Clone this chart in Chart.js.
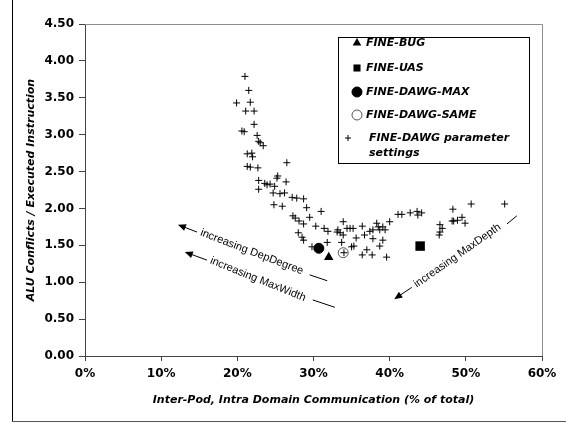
<!DOCTYPE html>
<html>
<head>
<meta charset="utf-8">
<script src="https://cdn.jsdelivr.net/npm/chart.js@4.4.1/dist/chart.umd.min.js"></script>
<style>
  html, body { margin: 0; padding: 0; background: #fff; }
  #wrap { width: 566px; height: 424px; }
</style>
</head>
<body>
<div id="wrap"><canvas id="chartCanvas" width="566" height="424"></canvas></div>
<script>
// --- data (x = % of total, y = conflicts / instruction)
var xTicks = [0, 10, 20, 30, 40, 50, 60];
var yTicks = [0, 0.5, 1, 1.5, 2, 2.5, 3, 3.5, 4, 4.5];

var seriesNames = ['FINE-BUG', 'FINE-UAS', 'FINE-DAWG-MAX', 'FINE-DAWG-SAME', 'FINE-DAWG parameter settings'];

var bugX = [32.0];
var bugY = [1.34];
var uasX = [44.0];
var uasY = [1.49];
var dawgMaxX = [30.7];
var dawgMaxY = [1.46];
var dawgSameX = [33.9];
var dawgSameY = [1.40];

var paramX = [
  21.0, 21.5, 19.9, 21.7, 21.1, 22.2, 22.2, 20.6, 20.9, 22.6,
  22.8, 23.0, 23.4, 21.3, 21.9, 22.0, 21.3, 21.7, 22.7, 26.5,
  25.3, 25.2, 22.8, 23.6, 24.3, 24.9, 26.4, 22.8, 23.9, 24.7,
  25.6, 26.2, 27.2, 27.8, 28.7, 24.8, 25.9, 29.1, 31.0, 27.3,
  27.6, 28.1, 28.7, 29.5, 30.3, 31.4, 31.9, 28.0, 28.5, 28.7,
  31.8, 29.8, 33.1, 33.9, 33.2, 33.5, 34.4, 34.8, 35.2, 33.9,
  33.7, 34.0, 35.0, 35.3, 35.6, 36.4, 37.4, 37.8, 38.3, 38.5,
  38.7, 39.1, 39.4, 40.0, 36.7, 37.8, 39.1, 38.7, 37.0, 36.4,
  37.7, 39.6, 41.1, 41.6, 42.7, 43.6, 43.7, 44.2, 46.6, 46.9,
  46.6, 46.5, 48.3, 48.2, 48.4, 48.9, 49.5, 49.9, 50.7, 55.1
];
var paramY = [
  3.79, 3.60, 3.43, 3.44, 3.32, 3.32, 3.14, 3.05, 3.04, 2.99,
  2.91, 2.89, 2.85, 2.74, 2.75, 2.70, 2.57, 2.56, 2.55, 2.62,
  2.44, 2.41, 2.38, 2.34, 2.33, 2.30, 2.36, 2.26, 2.32, 2.21,
  2.20, 2.21, 2.15, 2.14, 2.13, 2.05, 2.03, 2.01, 1.96, 1.90,
  1.87, 1.83, 1.79, 1.88, 1.76, 1.73, 1.69, 1.67, 1.61, 1.57,
  1.54, 1.48, 1.68, 1.82, 1.71, 1.67, 1.73, 1.73, 1.73, 1.64,
  1.54, 1.40, 1.48, 1.49, 1.60, 1.76, 1.69, 1.71, 1.80, 1.75,
  1.71, 1.75, 1.71, 1.82, 1.64, 1.59, 1.57, 1.49, 1.44, 1.37,
  1.37, 1.34, 1.92, 1.92, 1.94, 1.96, 1.91, 1.94, 1.78, 1.73,
  1.68, 1.64, 1.99, 1.83, 1.83, 1.84, 1.88, 1.80, 2.06, 2.06
];

// text arrows, placed in data units
var notes = [
  { text: 'increasing DepDegree', at: [21.9, 1.41], angle: 21, tail: [14.7, 1.68], tip: [12.2, 1.78], dash: [[29.5, 1.10], [31.8, 1.02]] },
  { text: 'increasing MaxWidth', at: [22.7, 1.04], angle: 22, tail: [16.0, 1.30], tip: [13.1, 1.41], dash: [[29.9, 0.76], [32.8, 0.66]] },
  { text: 'increasing MaxDepth', at: [48.9, 1.36], angle: -35, tail: [42.9, 0.93], tip: [40.6, 0.77], dash: [[55.4, 1.79], [56.7, 1.90]] }
];

function pairs(xs, ys) {
  var out = [];
  for (var i = 0; i < xs.length; i += 1) out.push({ x: xs[i], y: ys[i] });
  return out;
}

var tickFont = { family: '"DejaVu Sans", Verdana, sans-serif', size: 12, weight: 'bold' };
var titleFont = { family: '"DejaVu Sans", Verdana, sans-serif', size: 11, weight: 'bold', style: 'italic' };

function drawMarker(ctx, style, x, y, r, fill, stroke) {
  ctx.save();
  ctx.fillStyle = fill;
  ctx.strokeStyle = stroke;
  ctx.lineWidth = 1;
  ctx.beginPath();
  if (style === 'triangle') {
    ctx.moveTo(x, y - r);
    ctx.lineTo(x + r * 0.866, y + r / 2);
    ctx.lineTo(x - r * 0.866, y + r / 2);
    ctx.closePath();
    ctx.fill();
  } else if (style === 'rect') {
    var s = r * Math.SQRT1_2;
    ctx.rect(x - s, y - s, 2 * s, 2 * s);
    ctx.fill();
  } else if (style === 'circle') {
    ctx.arc(x, y, r, 0, Math.PI * 2);
    ctx.fill();
    ctx.stroke();
  } else if (style === 'cross') {
    ctx.moveTo(x - r, y); ctx.lineTo(x + r, y);
    ctx.moveTo(x, y - r); ctx.lineTo(x, y + r);
    ctx.stroke();
  }
  ctx.restore();
}

var framePlugin = {
  id: 'frame',
  afterDraw: function (chart) {
    var ctx = chart.ctx;
    var a = chart.chartArea;
    ctx.save();
    // outer chart frame
    ctx.strokeStyle = '#000';
    ctx.lineWidth = 1;
    ctx.beginPath();
    ctx.moveTo(12.5, 0); ctx.lineTo(12.5, 421.5);
    ctx.stroke();
    ctx.strokeStyle = '#555';
    ctx.beginPath();
    ctx.moveTo(12, 421.5); ctx.lineTo(566, 421.5);
    ctx.stroke();
    // plot area top / right edge
    ctx.strokeStyle = '#8c8c8c';
    ctx.beginPath();
    ctx.moveTo(a.left, Math.round(a.top) + 0.5);
    ctx.lineTo(Math.round(a.right) + 0.5, Math.round(a.top) + 0.5);
    ctx.lineTo(Math.round(a.right) + 0.5, a.bottom);
    ctx.stroke();
    ctx.restore();
  }
};

var notesPlugin = {
  id: 'notes',
  afterDatasetsDraw: function (chart) {
    var ctx = chart.ctx;
    var xs = chart.scales.x;
    var ys = chart.scales.y;
    ctx.save();
    ctx.strokeStyle = '#000';
    ctx.fillStyle = '#000';
    ctx.lineWidth = 1;
    notes.forEach(function (n) {
      var tx = xs.getPixelForValue(n.at[0]);
      var ty = ys.getPixelForValue(n.at[1]);
      ctx.save();
      ctx.translate(tx, ty);
      ctx.rotate(n.angle * Math.PI / 180);
      ctx.font = '11px "Liberation Sans", Arial, sans-serif';
      ctx.textAlign = 'center';
      ctx.textBaseline = 'middle';
      ctx.fillText(n.text, 0, 0);
      ctx.restore();

      var x1 = xs.getPixelForValue(n.tail[0]), y1 = ys.getPixelForValue(n.tail[1]);
      var x2 = xs.getPixelForValue(n.tip[0]), y2 = ys.getPixelForValue(n.tip[1]);
      var ang = Math.atan2(y2 - y1, x2 - x1);
      ctx.beginPath();
      ctx.moveTo(x1, y1);
      ctx.lineTo(x2 - Math.cos(ang) * 4, y2 - Math.sin(ang) * 4);
      ctx.stroke();
      ctx.beginPath();
      ctx.moveTo(x2, y2);
      ctx.lineTo(x2 - Math.cos(ang) * 8 + Math.sin(ang) * 3.5, y2 - Math.sin(ang) * 8 - Math.cos(ang) * 3.5);
      ctx.lineTo(x2 - Math.cos(ang) * 8 - Math.sin(ang) * 3.5, y2 - Math.sin(ang) * 8 + Math.cos(ang) * 3.5);
      ctx.closePath();
      ctx.fill();

      ctx.beginPath();
      ctx.moveTo(xs.getPixelForValue(n.dash[0][0]), ys.getPixelForValue(n.dash[0][1]));
      ctx.lineTo(xs.getPixelForValue(n.dash[1][0]), ys.getPixelForValue(n.dash[1][1]));
      ctx.stroke();
    });
    ctx.restore();
  }
};

var legendPlugin = {
  id: 'boxLegend',
  afterDraw: function (chart) {
    var ctx = chart.ctx;
    var bx = 338.5, by = 37.5, bw = 191, bh = 126;
    ctx.save();
    ctx.fillStyle = '#fff';
    ctx.fillRect(bx, by, bw, bh);
    ctx.strokeStyle = '#000';
    ctx.lineWidth = 1;
    ctx.strokeRect(bx, by, bw, bh);

    var rows = [43, 68, 92, 115, 138];
    var order = [1, 2, 3, 4, 0];
    ctx.font = 'italic bold 11px "DejaVu Sans", Verdana, sans-serif';
    ctx.fillStyle = '#000';
    ctx.textBaseline = 'middle';
    ctx.textAlign = 'left';
    order.forEach(function (di, i) {
      var ds = chart.data.datasets[di];
      var y = rows[i];
      if (ds.pointStyle === 'cross') {
        drawMarker(ctx, 'cross', 348, y, 3, '#000', '#000');
        var words = ds.label.split(' ');
        ctx.fillStyle = '#000';
        ctx.fillText(words.slice(0, 2).join(' '), 369, y);
        ctx.fillText(words.slice(2).join(' '), 369, y + 15);
      } else {
        drawMarker(ctx, ds.pointStyle, 357, y, 5, ds.pointBackgroundColor, ds.pointBorderColor);
        ctx.fillStyle = '#000';
        ctx.fillText(ds.label, 366, y);
      }
    });
    ctx.restore();
  }
};

new Chart(document.getElementById('chartCanvas').getContext('2d'), {
  type: 'scatter',
  data: {
    datasets: [
      { label: seriesNames[4], data: pairs(paramX, paramY), pointStyle: 'cross', pointRadius: 3.5, pointBorderWidth: 1, pointBorderColor: '#000', pointBackgroundColor: '#000' },
      { label: seriesNames[0], data: pairs(bugX, bugY), pointStyle: 'triangle', pointRadius: 5.5, pointBorderWidth: 0, pointBorderColor: '#000', pointBackgroundColor: '#000' },
      { label: seriesNames[1], data: pairs(uasX, uasY), pointStyle: 'rect', pointRadius: 6.7, pointBorderWidth: 0, pointBorderColor: '#000', pointBackgroundColor: '#000' },
      { label: seriesNames[2], data: pairs(dawgMaxX, dawgMaxY), pointStyle: 'circle', pointRadius: 5, pointBorderWidth: 1, pointBorderColor: '#000', pointBackgroundColor: '#000' },
      { label: seriesNames[3], data: pairs(dawgSameX, dawgSameY), pointStyle: 'circle', pointRadius: 5, pointBorderWidth: 1, pointBorderColor: '#555', pointBackgroundColor: 'rgba(255,255,255,0)' }
    ]
  },
  options: {
    responsive: false,
    animation: false,
    events: [],
    layout: { padding: { left: 12, top: 24, right: 24, bottom: 2 } },
    plugins: {
      legend: { display: false },
      tooltip: { enabled: false }
    },
    scales: {
      x: {
        type: 'linear',
        min: xTicks[0],
        max: xTicks[xTicks.length - 1],
        afterBuildTicks: function (s) { s.ticks = xTicks.map(function (v) { return { value: v }; }); },
        afterFit: function (s) { s.height = 66; },
        grid: { drawOnChartArea: false, drawTicks: true, tickLength: 5, color: '#444' },
        border: { color: '#444', width: 1 },
        ticks: { color: '#000', font: tickFont, padding: 6, maxRotation: 0, autoSkip: false, callback: function (v) { return v + '%'; } },
        title: { display: true, text: 'Inter-Pod, Intra Domain Communication (% of total)', color: '#000', font: titleFont, padding: { top: 0, bottom: 15 } }
      },
      y: {
        type: 'linear',
        min: yTicks[0],
        max: yTicks[yTicks.length - 1],
        afterBuildTicks: function (s) { s.ticks = yTicks.map(function (v) { return { value: v }; }); },
        afterFit: function (s) { s.width = 73; },
        grid: { drawOnChartArea: false, drawTicks: true, tickLength: 6, color: '#444' },
        border: { color: '#444', width: 1 },
        ticks: { color: '#000', font: tickFont, padding: 5, callback: function (v) { return Number(v).toFixed(2); } },
        title: { display: true, text: 'ALU Conflicts / Executed Instruction', color: '#000', font: titleFont, padding: { top: 13, bottom: 0 } }
      }
    }
  },
  plugins: [framePlugin, notesPlugin, legendPlugin]
});
</script>
</body>
</html>
